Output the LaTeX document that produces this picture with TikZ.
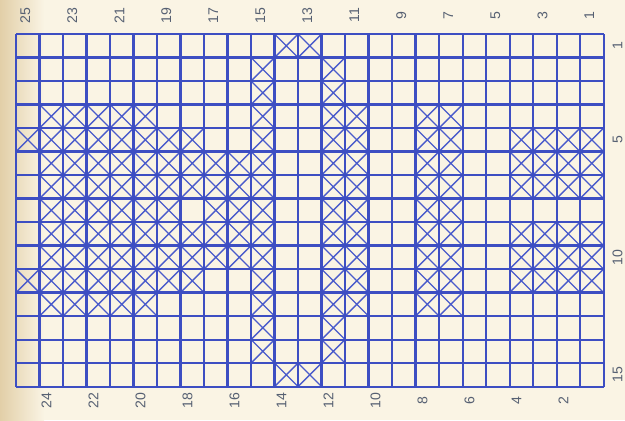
\documentclass[tikz,border=0pt]{standalone}
\usepackage{fontspec}
\setmainfont{Liberation Sans}
\usepackage{xcolor}
\usepackage{tikz}
\usetikzlibrary{positioning}
\definecolor{paper}{HTML}{FAF4E4}
\definecolor{paperedge}{HTML}{E2CFA8}
\definecolor{chartblue}{HTML}{3D4EC2}
\definecolor{crossblue}{HTML}{4A5BCB}
\definecolor{numgray}{HTML}{566072}

% cross every cell in columns #1..#2, rows #3..#4 (cols counted from the right)
\newcommand{\crossblock}[4]{%
  \foreach \cc in {#1,...,#2}{%
    \foreach \rr in {#3,...,#4}{%
      \draw[xmark] ({25-\cc},{\rr-1}) -- ++(1,1) ({26-\cc},{\rr-1}) -- ++(-1,1);
    }}}

\begin{document}
\begin{tikzpicture}[
  x=0.47cm,y=-0.47cm,
  font=\fontsize{8}{9}\selectfont,
  gridline/.style={draw=chartblue,line width=1.15pt},
  xmark/.style={draw=crossblue,line width=0.8pt},
  num/.style={text=numgray,rotate=90,inner sep=1pt}]
  \useasboundingbox (-0.681,-1.447) rectangle (25.915,16.426);
  \fill[paper] (-0.681,-1.447) rectangle (25.915,16.426);
  \shade[left color=paperedge,right color=paper]
    (-0.681,-1.447) rectangle (1.2,16.426);

  % crossed stitches
  \crossblock{24}{20}{4}{4}
  \crossblock{25}{18}{5}{5}
  \crossblock{24}{16}{6}{7}
  \crossblock{24}{19}{8}{8}
  \crossblock{17}{16}{8}{8}
  \crossblock{24}{16}{9}{10}
  \crossblock{25}{18}{11}{11}
  \crossblock{24}{20}{12}{12}
  \crossblock{15}{15}{2}{14}
  \crossblock{14}{13}{1}{1}
  \crossblock{14}{13}{15}{15}
  \crossblock{12}{12}{2}{14}
  \crossblock{11}{11}{4}{12}
  \crossblock{8}{7}{4}{12}
  \crossblock{4}{1}{5}{7}
  \crossblock{4}{1}{9}{11}

  % grid
  \foreach \i in {0,...,25}
    \draw[gridline] (\i,0) -- (\i,15);
  \foreach \j in {0,...,15}
    \draw[gridline] (0,\j) -- (25,\j);

  % numbers
  \foreach \c in {1,3,...,25}
    \node[num] (top\c) at ({25.4-\c},-0.8) {\c};
  \foreach \c in {2,4,...,24}
    \node[num] (bot\c) at ({25.3-\c},15.6) {\c};
  \foreach \r in {1,5,10,15}
    \node[num] (row\r) at (25.6,{\r-0.5}) {\r};
\end{tikzpicture}
\end{document}
